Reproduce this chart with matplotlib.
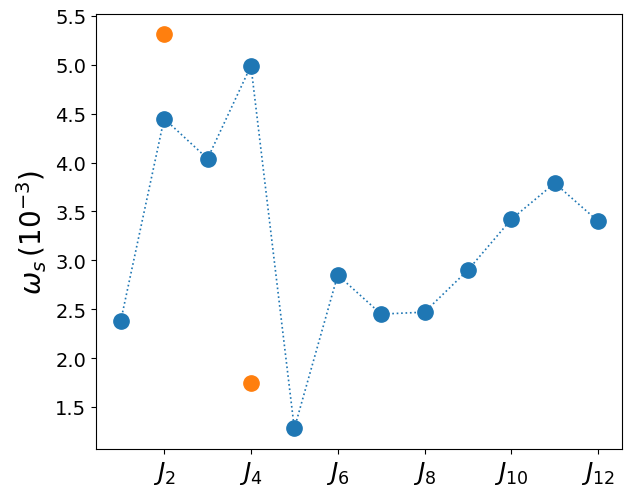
import matplotlib
matplotlib.use("Agg")
import matplotlib.pyplot as plt

x_blue = [1, 2, 3, 4, 5, 6, 7, 8, 9, 10, 11, 12]
y_blue = [2.38, 4.45, 4.04, 4.99, 1.28, 2.85, 2.45, 2.47, 2.90, 3.42, 3.79, 3.40]
x_orange = [2, 4]
y_orange = [5.32, 1.75]
xtick_pos = [2, 4, 6, 8, 10, 12]
xtick_labels = [r"$J_{2}$", r"$J_{4}$", r"$J_{6}$", r"$J_{8}$", r"$J_{10}$", r"$J_{12}$"]

fig = plt.figure(figsize=(6.28, 4.89), dpi=100)
ax = fig.add_axes([96/628, 1 - 450/489, (622-96)/628, (450-15)/489])
ax.plot(x_blue, y_blue, ":", color="C0", linewidth=1.2)
ax.plot(x_blue, y_blue, "o", color="C0", markersize=11, linestyle="none")
ax.plot(x_orange, y_orange, "o", color="C1", markersize=11, linestyle="none")
ax.set_xticks(xtick_pos)
ax.set_xticklabels(xtick_labels, fontsize=18)
ax.set_yticks([1.5, 2.0, 2.5, 3.0, 3.5, 4.0, 4.5, 5.0, 5.5])
ax.tick_params(axis="y", labelsize=14)
ax.set_ylim(1.07, 5.52)
ax.set_xlim(0.43, 12.55)
ax.set_ylabel(r"$\omega_s\,(10^{-3})$", fontsize=20)
fig.savefig("out.png", dpi=100)
